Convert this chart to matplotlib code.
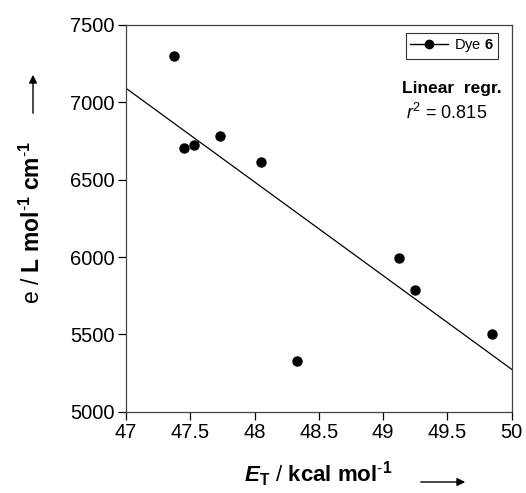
import matplotlib
matplotlib.use("Agg")
import matplotlib.pyplot as plt

plt.rcParams['font.family'] = ['Liberation Sans', 'DejaVu Sans']
plt.rcParams['mathtext.fontset'] = 'custom'
plt.rcParams['mathtext.rm'] = 'Liberation Sans'
plt.rcParams['mathtext.it'] = 'Liberation Sans:italic'
plt.rcParams['mathtext.bf'] = 'Liberation Sans:bold'
plt.rcParams['mathtext.bfit'] = 'Liberation Sans:bold:italic'

# data
et_values = [47.37, 47.45, 47.53, 47.73, 48.05, 48.33, 49.12, 49.25, 49.85]
eps_values = [7302, 6707, 6726, 6784, 6612, 5330, 5994, 5787, 5500]
regr_x = [47.0, 50.0]
regr_y = [7091, 5274]
x_ticks = [47, 47.5, 48, 48.5, 49, 49.5, 50]
x_tick_labels = ["47", "47.5", "48", "48.5", "49", "49.5", "50"]
y_ticks = [5000, 5500, 6000, 6500, 7000, 7500]

fig = plt.figure(figsize=(5.26, 4.93), dpi=100)
ax = fig.add_axes([126/526, 1 - 411.7/493, (511.7 - 126)/526, (411.7 - 25)/493])

ax.plot(regr_x, regr_y, color='black', lw=0.9, zorder=2)
ax.plot(et_values, eps_values, 'o', color='black', ms=6.5, zorder=3)
# legend proxy
proxy, = ax.plot([], [], '-o', color='black', ms=6, lw=1)
leg = ax.legend([proxy], [r"Dye $\mathbf{6}$"], loc='upper right', fontsize=10.5,
                frameon=True, fancybox=False, edgecolor='black', handlelength=2.6,
                borderpad=0.3, handletextpad=0.4, borderaxespad=0,
                bbox_to_anchor=(0.9645, 0.979))
leg.get_frame().set_linewidth(0.8)

ax.set_xlim(47, 50)
ax.set_ylim(5000, 7500)
ax.set_xticks(x_ticks)
ax.set_xticklabels(x_tick_labels)
ax.set_yticks(y_ticks)
ax.tick_params(direction='out', length=6, width=0.9, labelsize=14.5, pad=2)
for s in ax.spines.values():
    s.set_linewidth(0.9)
    s.set_color('#444444')

ax.text(0.975, 0.837, "Linear  regr.", transform=ax.transAxes, ha='right', va='center',
        fontsize=12.5, fontweight='bold')
ax.text(0.936, 0.772, r"$r^2$ = 0.815", transform=ax.transAxes, ha='right', va='center',
        fontsize=13)

# y label
fig.text(32/526, 1 - 222/493, r"e / $\mathbf{L\ mol^{\text{-}1}\ cm^{\text{-}1}}$", rotation=90,
         ha='center', va='center', fontsize=16.5)
fig.add_artist(matplotlib.patches.FancyArrowPatch(
    (33/526, 1 - 116/493), (33/526, 1 - 72/493), transform=fig.transFigure,
    arrowstyle='-|>', mutation_scale=12, color='black', lw=1))

# x label
fig.text(318/526, 1 - 474/493, r"$\mathbfit{E}_{\mathbf{T}}$ / $\mathbf{kcal\ mol^{\text{-}1}}$",
         ha='center', va='center', fontsize=16)
fig.add_artist(matplotlib.patches.FancyArrowPatch(
    (418/526, 1 - 482/493), (468/526, 1 - 482/493), transform=fig.transFigure,
    arrowstyle='-|>', mutation_scale=12, color='black', lw=1))

fig.savefig("out.png", dpi=100)
